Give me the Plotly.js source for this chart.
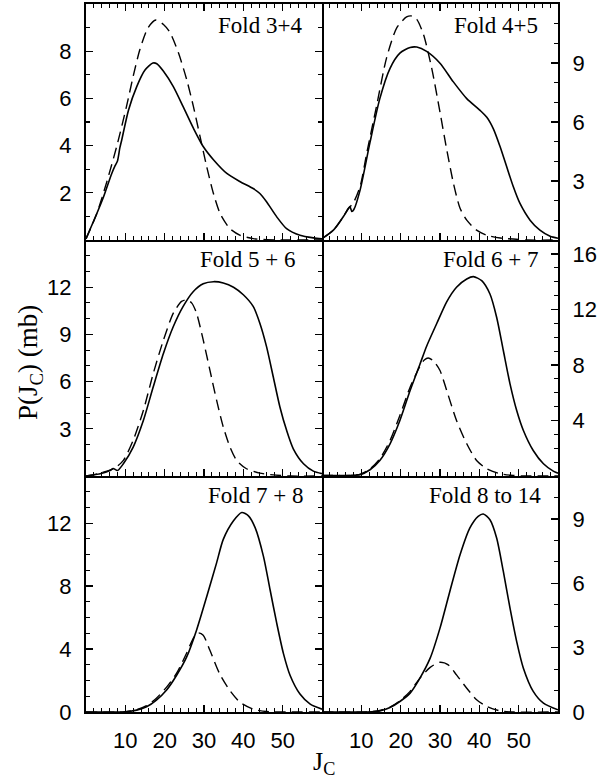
<!DOCTYPE html>
<html><head><meta charset="utf-8">
<script src="https://cdn.plot.ly/plotly-3.0.1.min.js"></script>
<style>html,body{margin:0;padding:0;background:#fff}</style>
</head><body><div id="chart" style="width:611px;height:781px"></div>
<script>
// ---------------- DATA ----------------
const panelTitles = ["Fold 3+4", "Fold 4+5", "Fold 5 + 6", "Fold 6 + 7", "Fold 7 + 8", "Fold 8 to 14"];
const xTickVals = [10, 20, 30, 40, 50];

const fold34SolidJ = [0, 2.7, 4.4, 6.5, 7.4, 8.0, 8.6, 9.1, 10.8, 12.9, 15, 17, 18, 19.7, 22.2, 24.7, 27.3, 29.8, 32.4, 35.8, 39.2, 42.5, 44.2, 45.9, 48.5, 51, 54.4, 57.8, 60];
const fold34SolidP = [0.05, 1.1, 1.8, 2.8, 3.15, 3.35, 3.9, 4.25, 5.5, 6.5, 7.2, 7.5, 7.47, 7.15, 6.5, 5.65, 4.74, 3.96, 3.4, 2.82, 2.47, 2.18, 1.97, 1.62, 0.98, 0.48, 0.2, 0.09, 0.05];
const fold34DashJ = [0, 2.7, 5.3, 7.8, 10.3, 12, 13.7, 15.8, 17.8, 19.7, 21.4, 23.5, 25.6, 27.3, 29, 30.7, 32.4, 34.1, 36.6, 39.2, 42.5, 45.9, 50, 60];
const fold34DashP = [0.05, 1.1, 2.47, 3.96, 5.66, 6.94, 8.07, 9.0, 9.32, 9.13, 8.78, 7.93, 6.8, 5.66, 4.38, 3.1, 1.97, 1.12, 0.48, 0.2, 0.06, 0.01, 0, 0];

const fold45SolidJ = [0, 2.9, 5.4, 6.7, 7.1, 7.6, 8.1, 9.7, 12.2, 14.7, 17.3, 19.8, 22.4, 24.1, 26.6, 30, 33.4, 36.8, 40.2, 41.9, 43.6, 45.2, 46.9, 48.6, 50.3, 52.9, 55.4, 58, 60];
const fold45SolidP = [0.07, 0.5, 1.18, 1.6, 1.7, 1.45, 1.55, 2.55, 4.96, 7.19, 8.73, 9.5, 9.79, 9.81, 9.59, 8.99, 8.04, 7.19, 6.59, 6.24, 5.64, 4.79, 3.76, 2.73, 1.87, 1.01, 0.5, 0.19, 0.09];
const fold45DashJ = [0, 2.9, 5.4, 6.7, 8, 9.7, 11.4, 13.9, 16.4, 19, 21.5, 22.8, 24.1, 25.8, 27.9, 30, 31.7, 33.4, 35.1, 36.8, 39.3, 41.9, 45.3, 48.6, 52, 60];
const fold45DashP = [0.07, 0.5, 1.18, 1.6, 1.9, 2.73, 4.44, 6.84, 9.25, 10.79, 11.34, 11.39, 11.22, 10.45, 8.73, 6.5, 4.61, 2.9, 1.61, 1.01, 0.5, 0.24, 0.1, 0.05, 0, 0];

const fold56SolidJ = [0, 3.6, 6.1, 6.9, 8, 9.5, 12, 14.6, 17.1, 19.7, 22.2, 24.7, 27.3, 29.8, 32.4, 34.9, 37.5, 40, 42.5, 44.2, 45.9, 47.6, 49.3, 51, 52.7, 55.3, 57.8, 60];
const fold56SolidP = [0, 0.14, 0.35, 0.48, 0.35, 0.78, 1.84, 3.54, 5.67, 7.8, 9.5, 10.78, 11.73, 12.22, 12.35, 12.27, 12.0, 11.52, 10.78, 9.71, 8.22, 6.31, 4.39, 2.9, 1.73, 0.78, 0.31, 0.15];
const fold56DashJ = [0, 3.6, 7.4, 9.5, 12, 14.6, 17.1, 19.7, 22.2, 24.3, 25.6, 26.9, 28.1, 29.8, 31.5, 33.2, 34.9, 36.6, 38.3, 40.8, 44.2, 47.6, 52, 60];
const fold56DashP = [0, 0.18, 0.52, 0.99, 2.27, 4.18, 6.52, 8.65, 10.35, 11.1, 11.2, 10.99, 10.35, 8.65, 6.73, 4.82, 3.12, 1.84, 0.99, 0.46, 0.18, 0.07, 0, 0];

const fold67SolidJ = [0, 7.1, 9.7, 12.2, 14.7, 17.3, 19.8, 22.4, 24.9, 26.6, 29.2, 31.7, 34.2, 36.8, 38.5, 40.6, 42.7, 44.4, 46.1, 47.8, 49.5, 51.2, 53.7, 56.3, 58.8, 60];
const fold67SolidP = [0.04, 0.04, 0.1, 0.45, 1.12, 2.32, 4.0, 6.16, 8.05, 9.35, 11.0, 12.55, 13.6, 14.19, 14.36, 14.07, 13.11, 11.44, 9.04, 6.64, 4.72, 3.28, 1.84, 0.88, 0.35, 0.2];
const fold67DashJ = [0, 7.1, 9.7, 12.2, 14.7, 17.3, 19.8, 22.4, 24.9, 26, 27, 28.3, 30, 31.7, 34.2, 36.8, 39.3, 41.9, 45.3, 48.6, 52, 60];
const fold67DashP = [0.04, 0.04, 0.12, 0.5, 1.24, 2.56, 4.36, 6.4, 7.9, 8.35, 8.5, 8.3, 7.6, 6.16, 4.0, 2.32, 1.12, 0.52, 0.16, 0.04, 0, 0];

const fold78SolidJ = [0, 9.9, 12.9, 15.4, 17.9, 20.5, 23, 25.6, 28.1, 30.7, 33.2, 34.9, 37.5, 39.6, 41.3, 43, 45.1, 46.8, 48.5, 50.2, 51.9, 54.4, 57, 60];
const fold78SolidP = [0, 0.01, 0.12, 0.33, 0.76, 1.4, 2.32, 3.5, 5.2, 7.34, 9.48, 10.97, 12.15, 12.68, 12.47, 11.72, 9.91, 7.77, 5.63, 3.71, 2.32, 1.14, 0.5, 0.18];
const fold78DashJ = [0, 9.9, 12.9, 15.4, 17.9, 20.5, 23, 25.6, 27.3, 28.5, 29.8, 31.5, 34, 36.6, 39.2, 42.5, 45.9, 50, 60];
const fold78DashP = [0, 0.01, 0.15, 0.4, 0.88, 1.58, 2.45, 3.75, 4.7, 5.03, 4.88, 3.92, 2.42, 1.36, 0.61, 0.18, 0.03, 0, 0];

const fold814SolidJ = [0, 11.4, 14.7, 17.3, 19.8, 22.4, 24.9, 27.5, 30, 32.5, 35.1, 37.6, 39.7, 41, 42.7, 44.4, 46.1, 47.8, 49.5, 51.2, 53.7, 56.3, 60];
const fold814SolidP = [0, 0, 0.05, 0.21, 0.49, 0.88, 1.58, 2.51, 3.91, 5.62, 7.33, 8.58, 9.12, 9.23, 8.96, 8.11, 6.55, 4.84, 3.28, 2.04, 0.96, 0.41, 0.1];
const fold814DashJ = [0, 11.4, 14.7, 17.3, 19.8, 22.4, 24.9, 27.5, 30, 32.1, 34.2, 36.8, 39.3, 41.9, 45.3, 48.6, 60];
const fold814DashP = [0, 0, 0.07, 0.23, 0.52, 0.96, 1.58, 2.08, 2.32, 2.2, 1.73, 1.11, 0.57, 0.26, 0.05, 0, 0];

const yMax = [10, 12, 15, 17, 15, 11];
const yTickVals = [[2, 4, 6, 8], [3, 6, 9], [3, 6, 9, 12], [4, 8, 12, 16], [0, 4, 8, 12], [0, 3, 6, 9]];

const seriesSolidJ = [fold34SolidJ, fold45SolidJ, fold56SolidJ, fold67SolidJ, fold78SolidJ, fold814SolidJ];
const seriesSolidP = [fold34SolidP, fold45SolidP, fold56SolidP, fold67SolidP, fold78SolidP, fold814SolidP];
const seriesDashJ = [fold34DashJ, fold45DashJ, fold56DashJ, fold67DashJ, fold78DashJ, fold814DashJ];
const seriesDashP = [fold34DashP, fold45DashP, fold56DashP, fold67DashP, fold78DashP, fold814DashP];

// ---------------- LAYOUT ----------------
const W = 611, H = 781;
const colPx = [[86, 322], [322, 558]];
const rowPx = [[4, 240], [240, 476], [476, 712]];
const titleRight = [304, 540, 297, 540, 305, 543];
const titleMidY = [26, 259.5, 495];

const tickFont = {family: "Liberation Sans, Arial, sans-serif", size: 22, color: "#000"};
const serifFont = "Liberation Serif, Times New Roman, serif";

const traces = [];
const layout = {
  width: W, height: H,
  margin: {l: 0, r: 0, t: 0, b: 0},
  paper_bgcolor: "#fff", plot_bgcolor: "#fff",
  showlegend: false,
  annotations: []
};

for (let i = 0; i < 6; i++) {
  const row = Math.floor(i / 2), col = i % 2;
  const xa = "x" + (i + 1), ya = "y" + (i + 1);
  const xKey = "xaxis" + (i + 1), yKey = "yaxis" + (i + 1);
  traces.push({
    x: seriesSolidJ[i], y: seriesSolidP[i], xaxis: xa, yaxis: ya,
    type: "scatter", mode: "lines",
    line: {color: "#000", width: 1.6, shape: "spline", smoothing: 0.7}
  });
  traces.push({
    x: seriesDashJ[i], y: seriesDashP[i], xaxis: xa, yaxis: ya,
    type: "scatter", mode: "lines",
    line: {color: "#000", width: 1.4, dash: "11px,6px", shape: "spline", smoothing: 0.7}
  });
  layout[xKey] = {
    domain: [colPx[col][0] / W, colPx[col][1] / W],
    anchor: ya,
    range: [0, 60],
    tickmode: "array", tickvals: xTickVals,
    ticks: "inside", ticklen: 7, tickwidth: 1.3, tickcolor: "#000",
    minor: {tickmode: "linear", tick0: 0, dtick: 2, ticks: "inside", ticklen: 4, tickwidth: 1.1, tickcolor: "#000"},
    showline: true, linecolor: "#000", linewidth: 2,
    mirror: row === 0 ? "ticks" : false,
    showgrid: false, zeroline: false,
    showticklabels: row === 2,
    tickfont: tickFont,
    ticklabelstandoff: 8
  };
  layout[yKey] = {
    domain: [1 - rowPx[row][1] / H, 1 - rowPx[row][0] / H],
    anchor: xa,
    side: col === 0 ? "left" : "right",
    range: [0, yMax[i]],
    tickmode: "array", tickvals: yTickVals[i],
    ticks: "inside", ticklen: 7, tickwidth: 1.3, tickcolor: "#000",
    minor: {tickmode: "linear", tick0: 0, dtick: 1, ticks: "inside", ticklen: 4, tickwidth: 1.1, tickcolor: "#000"},
    showline: true, linecolor: "#000", linewidth: 2,
    mirror: col === 0 ? "ticks" : false,
    showgrid: false, zeroline: false,
    tickfont: tickFont,
    ticklabelstandoff: 8
  };
  layout.annotations.push({
    xref: "paper", yref: "paper",
    x: titleRight[i] / W, y: 1 - titleMidY[row] / H,
    xanchor: "right", yanchor: "middle",
    text: panelTitles[i], showarrow: false,
    font: {family: serifFont, size: 23, color: "#000"}
  });
}

layout.annotations.push({
  xref: "paper", yref: "paper", x: 30 / W, y: 1 - 362 / H,
  xanchor: "center", yanchor: "middle", textangle: -90,
  text: "P(J<sub>C</sub>) (mb)", showarrow: false,
  font: {family: serifFont, size: 27, color: "#000"}
});
layout.annotations.push({
  xref: "paper", yref: "paper", x: 324 / W, y: 1 - 763 / H,
  xanchor: "center", yanchor: "middle",
  text: "J<sub>C</sub>", showarrow: false,
  font: {family: serifFont, size: 26, color: "#000"}
});

Plotly.newPlot("chart", traces, layout, {displayModeBar: false, staticPlot: true});
</script>
</body></html>
